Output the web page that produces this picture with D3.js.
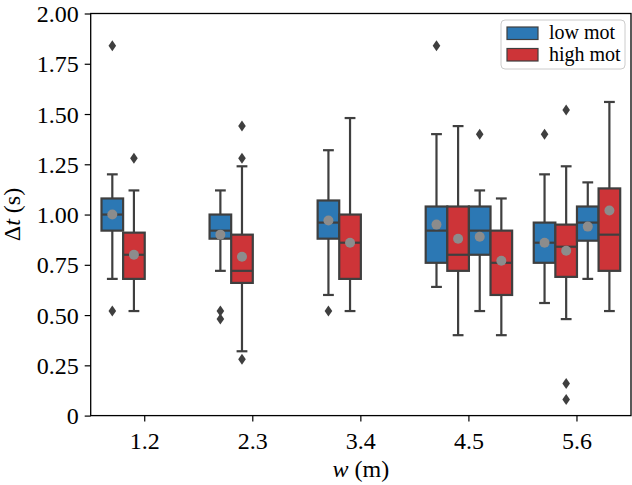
<!DOCTYPE html>
<html><head><meta charset="utf-8">
<script src="https://cdn.jsdelivr.net/npm/d3@7"></script>
<style>body{margin:0;background:#fff}svg{display:block}svg text{font-family:'Liberation Serif','Times New Roman',Times,serif !important;fill:#000}</style>
</head><body><svg id="c" width="632" height="485" font-family="'Liberation Serif', serif"></svg>
<script>
const categories = ["1.2","2.3","3.4","4.5","5.6"];
const groups = ["low mot","high mot"];
const yTicks = [0,0.25,0.5,0.75,1.0,1.25,1.5,1.75,2.0];
// one entry per box
const boxCategory = ["1.2","1.2","2.3","2.3","3.4","3.4","4.5","4.5","4.5","4.5","5.6","5.6","5.6","5.6"];
const boxSlot     = [0,1,0,1,0,1,0,1,2,3,0,1,2,3];
const boxGroup    = ["low mot","high mot","low mot","high mot","low mot","high mot","low mot","high mot","low mot","high mot","low mot","high mot","low mot","high mot"];
const whiskerLow  = [0.68,0.52,0.72,0.32,0.60,0.52,0.64,0.40,0.52,0.40,0.56,0.48,0.68,0.52];
const q1          = [0.92,0.68,0.88,0.66,0.88,0.68,0.76,0.72,0.80,0.60,0.76,0.69,0.87,0.72];
const median      = [1.00,0.80,0.92,0.72,0.96,0.86,0.92,0.80,0.92,0.76,0.86,0.84,0.96,0.90];
const q3          = [1.08,0.91,1.00,0.90,1.07,1.00,1.04,1.04,1.04,0.92,0.96,0.95,1.04,1.13];
const whiskerHigh = [1.20,1.12,1.12,1.24,1.32,1.48,1.40,1.44,1.12,1.08,1.20,1.24,1.16,1.56];
const means       = [1.00,0.80,0.90,0.79,0.97,0.86,0.95,0.88,0.89,0.77,0.86,0.82,0.94,1.02];
const outliers    = [[1.84,0.52],[1.28],[0.52,0.48],[1.44,1.28,0.28],[0.52],[],[1.84],[],[1.40],[],[1.40],[1.52,0.16,0.08],[],[]];

const colors = {"low mot":"#2c78b4","high mot":"#cd3438"};
const lineC = "#3f3f3f";
const FF = "'Liberation Serif', 'Times New Roman', serif";
const L = 90.7, R = 631, T = 13.5, B = 415.6;
const svg = d3.select("#c");
const x = d3.scaleBand().domain(categories).range([L,R]).paddingInner(0).paddingOuter(0);
const y = d3.scaleLinear().domain([0,2]).range([B,T]);
const bw = x.bandwidth();
const boxW = bw*0.2;

// axes
const yAxis = d3.axisLeft(y).tickValues(yTicks).tickSize(6).tickPadding(6)
  .tickFormat(d => d===0 ? "0" : d3.format(".2f")(d));
const gy = svg.append("g").attr("transform",`translate(${L},0)`).call(yAxis);
const xAxis = d3.axisBottom(x).tickSize(6).tickPadding(10);
const gx = svg.append("g").attr("transform",`translate(0,${B})`).call(xAxis);
[gx,gy].forEach(g=>{
  g.attr("font-family",FF).attr("font-size",24);
  g.select(".domain").remove();
  g.selectAll("line").attr("stroke","#000").attr("stroke-width",1.2);
  g.selectAll("text").attr("font-family",FF).style("font-size","24px");
});
gy.selectAll("text").attr("dy","0.34em");

// boxes
const idx = d3.range(boxCategory.length);
const bx = i => x(boxCategory[i]) + bw*0.1 + boxSlot[i]*boxW;
const g = svg.append("g");
idx.forEach(i=>{
  const x0 = bx(i), cx = x0 + boxW/2, cw = boxW*0.25;
  g.append("line").attr("x1",cx).attr("x2",cx).attr("y1",y(q3[i])).attr("y2",y(whiskerHigh[i])).attr("stroke",lineC).attr("stroke-width",2.2);
  g.append("line").attr("x1",cx).attr("x2",cx).attr("y1",y(q1[i])).attr("y2",y(whiskerLow[i])).attr("stroke",lineC).attr("stroke-width",2.2);
  g.append("line").attr("x1",cx-cw).attr("x2",cx+cw).attr("y1",y(whiskerHigh[i])).attr("y2",y(whiskerHigh[i])).attr("stroke",lineC).attr("stroke-width",2.2);
  g.append("line").attr("x1",cx-cw).attr("x2",cx+cw).attr("y1",y(whiskerLow[i])).attr("y2",y(whiskerLow[i])).attr("stroke",lineC).attr("stroke-width",2.2);
});
idx.forEach(i=>{
  const x0 = bx(i);
  g.append("rect").attr("x",x0).attr("width",boxW).attr("y",y(q3[i])).attr("height",y(q1[i])-y(q3[i]))
    .attr("fill",colors[boxGroup[i]]).attr("stroke",lineC).attr("stroke-width",2.2);
  g.append("line").attr("x1",x0).attr("x2",x0+boxW).attr("y1",y(median[i])).attr("y2",y(median[i])).attr("stroke",lineC).attr("stroke-width",2.2);
});
idx.forEach(i=>{
  const cx = bx(i) + boxW/2;
  g.append("circle").attr("cx",cx).attr("cy",y(means[i])).attr("r",5).attr("fill","#8c8c8c");
  outliers[i].forEach(v=>{
    const yy = y(v);
    g.append("path").attr("d",`M${cx},${yy-5.5}L${cx+3.8},${yy}L${cx},${yy+5.5}L${cx-3.8},${yy}Z`).attr("fill",lineC);
  });
});

// frame
svg.append("rect").attr("x",L).attr("y",T).attr("width",R-L).attr("height",B-T).attr("fill","none").attr("stroke","#000").attr("stroke-width",1.3);

// axis labels
const yl = svg.append("text").attr("transform",`translate(20,${(T+B)/2}) rotate(-90)`).attr("text-anchor","middle").attr("font-family",FF).style("font-size","24px");
yl.append("tspan").text("Δ");
yl.append("tspan").attr("font-style","italic").text("t");
yl.append("tspan").text(" (s)");
const xl = svg.append("text").attr("x",(L+R)/2).attr("y",477).attr("text-anchor","middle").attr("font-family",FF).style("font-size","24px");
xl.append("tspan").attr("font-style","italic").text("w");
xl.append("tspan").text(" (m)");

// legend
const lg = svg.append("g");
lg.append("rect").attr("x",501).attr("y",20).attr("width",124).attr("height",49).attr("rx",4)
  .attr("fill","#fff").attr("fill-opacity",0.8).attr("stroke","#cccccc").attr("stroke-width",1);
groups.forEach((gname,k)=>{
  const yy = 27 + k*21.5;
  lg.append("rect").attr("x",507).attr("y",yy).attr("width",31).attr("height",12.5)
    .attr("fill",colors[gname]).attr("stroke",lineC).attr("stroke-width",1.2);
  lg.append("text").attr("x",549).attr("y",yy+12).attr("font-family",FF).style("font-size","20px").text(gname);
});
</script></body></html>
